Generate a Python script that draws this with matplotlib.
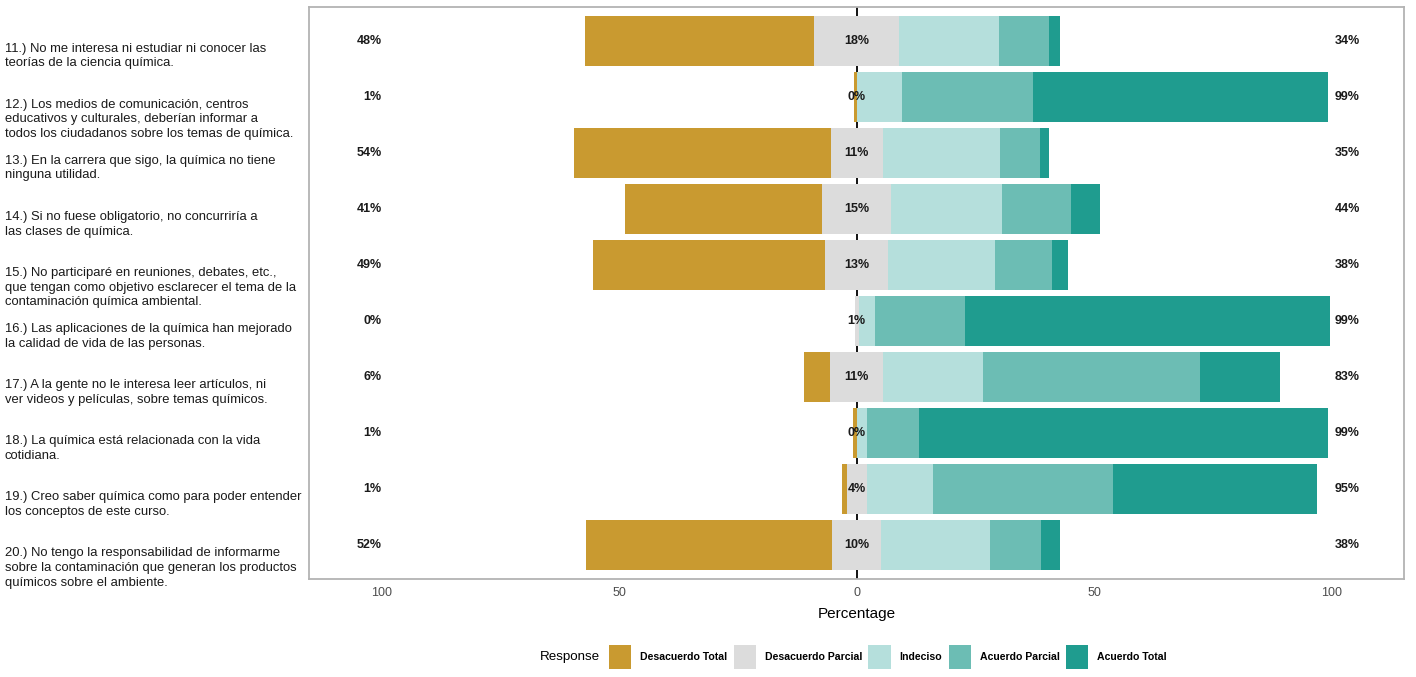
import matplotlib
matplotlib.use("Agg")
import matplotlib.pyplot as plt
from matplotlib.patches import Patch

plt.rcParams['font.family'] = ['Liberation Sans', 'DejaVu Sans']

# items (top to bottom)
items = [
    "11.) No me interesa ni estudiar ni conocer las\nteorías de la ciencia química.",
    "12.) Los medios de comunicación, centros\neducativos y culturales, deberían informar a\ntodos los ciudadanos sobre los temas de química.",
    "13.) En la carrera que sigo, la química no tiene\nninguna utilidad.",
    "14.) Si no fuese obligatorio, no concurriría a\nlas clases de química.",
    "15.) No participaré en reuniones, debates, etc.,\nque tengan como objetivo esclarecer el tema de la\ncontaminación química ambiental.",
    "16.) Las aplicaciones de la química han mejorado\nla calidad de vida de las personas.",
    "17.) A la gente no le interesa leer artículos, ni\nver videos y películas, sobre temas químicos.",
    "18.) La química está relacionada con la vida\ncotidiana.",
    "19.) Creo saber química como para poder entender\nlos conceptos de este curso.",
    "20.) No tengo la responsabilidad de informarme\nsobre la contaminación que generan los productos\nquímicos sobre el ambiente.",
]

levels = ["Desacuerdo Total", "Desacuerdo Parcial", "Indeciso",
          "Acuerdo Parcial", "Acuerdo Total"]
colors = ["#C99A30", "#DCDCDC", "#B5DFDC", "#6CBDB4", "#1F9C8F"]

# percentages per response level
des_total   = [48.2, 0.6, 54.1, 41.4, 48.9, 0.0, 5.4, 0.7, 0.9, 51.7]
des_parcial = [18.0, 0.0, 11.0, 14.6, 13.3, 0.8, 11.2, 0.0, 4.3, 10.4]
indeciso    = [20.9, 9.6, 24.6, 23.3, 22.4, 3.4, 21.0, 2.2, 13.9, 22.9]
ac_parcial  = [10.5, 27.5, 8.5, 14.6, 12.0, 18.9, 45.6, 11.0, 37.8, 10.6]
ac_total    = [2.3, 62.2, 1.9, 6.1, 3.4, 76.9, 16.8, 86.0, 43.1, 4.1]

low_lbl  = ["48%", "1%", "54%", "41%", "49%", "0%", "6%", "1%", "1%", "52%"]
mid_lbl  = ["18%", "0%", "11%", "15%", "13%", "1%", "11%", "0%", "4%", "10%"]
high_lbl = ["34%", "99%", "35%", "44%", "38%", "99%", "83%", "99%", "95%", "38%"]

W, H = 1416, 677
fig = plt.figure(figsize=(W / 100, H / 100), dpi=100)
ax = fig.add_axes([309 / W, 98 / H, 1095 / W, 572 / H])

ypos = list(range(len(items)))
bh = 0.89

ax.axvline(0, color="black", lw=1.3, zorder=0.5)

half = [d / 2 for d in des_parcial]
# left side
ax.barh(ypos, des_total, left=[-h - d for h, d in zip(half, des_total)],
        height=bh, color=colors[0], zorder=2)
# centred neutral
ax.barh(ypos, des_parcial, left=[-h for h in half], height=bh,
        color=colors[1], zorder=2)
# right side stacked
start = half[:]
for vals, c in zip([indeciso, ac_parcial, ac_total], colors[2:]):
    ax.barh(ypos, vals, left=start, height=bh, color=c, zorder=2)
    start = [s + v for s, v in zip(start, vals)]

for y in ypos:
    ax.text(-100, y, low_lbl[y], ha="right", va="center", fontsize=9,
            fontweight="bold", color="#1a1a1a", zorder=3)
    ax.text(0, y, mid_lbl[y], ha="center", va="center", fontsize=9,
            fontweight="bold", color="#1a1a1a", zorder=3)
    ax.text(100.6, y, high_lbl[y], ha="left", va="center", fontsize=9,
            fontweight="bold", color="#1a1a1a", zorder=3)

ax.set_xlim(-115.3, 115.2)
ax.set_ylim(len(items) - 0.4, -0.6)
ax.set_xticks([-100, -50, 0, 50, 100])
ax.set_xticklabels(["100", "50", "0", "50", "100"])
ax.tick_params(axis="x", length=0, pad=5.5, labelsize=9, labelcolor="#4D4D4D")

# labels hang just below each bar centre
ax.set_yticks([y + 0.035 for y in ypos])
ax.set_yticklabels(items, fontsize=9.4, color="#1a1a1a", linespacing=1.3)
ax.tick_params(axis="y", length=0, pad=219)
for t in ax.get_yticklabels():
    t.set_horizontalalignment("left")
    t.set_verticalalignment("top")

ax.set_xlabel("Percentage", fontsize=11, labelpad=6)

for s in ax.spines.values():
    s.set_color("#B3B3B3")
    s.set_linewidth(1.3)

handles = [Patch(facecolor=c, edgecolor="none") for c in colors]
fig.text(539.5 / W, 1 - 657 / H, "Response", fontsize=9.6, va="center", ha="left")
fig.legend(handles, levels, ncol=5, loc="center left",
           bbox_to_anchor=(609 / W, 1 - 657 / H), frameon=False,
           prop={"size": 7.6, "weight": "bold"}, handlelength=2.1,
           handleheight=3.2, handletextpad=0.85, columnspacing=0.6,
           borderpad=0, borderaxespad=0)

fig.savefig("out.png", dpi=100)
